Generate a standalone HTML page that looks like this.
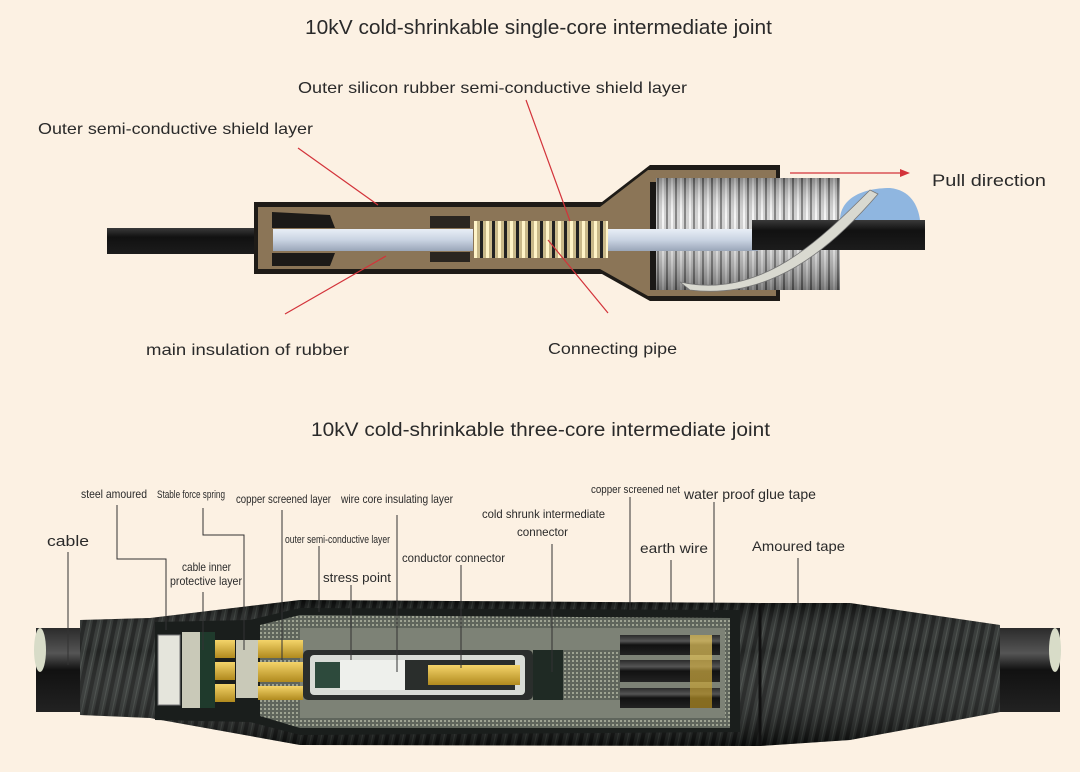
<!DOCTYPE html>
<html><head><meta charset="utf-8"><style>
html,body{margin:0;padding:0;background:#fcf1e3;}
svg{display:block;}
text{font-family:"Liberation Sans",sans-serif;fill:#2a2a2a;}
</style></head><body>
<svg width="1080" height="772" viewBox="0 0 1080 772" xmlns="http://www.w3.org/2000/svg">
<defs>
<linearGradient id="rod" x1="0" y1="0" x2="0" y2="1"><stop offset="0" stop-color="#e8eef6"/><stop offset=".5" stop-color="#c9d3e2"/><stop offset="1" stop-color="#9aa6b8"/></linearGradient>
<linearGradient id="blk" x1="0" y1="0" x2="0" y2="1"><stop offset="0" stop-color="#3a3a3a"/><stop offset=".35" stop-color="#111"/><stop offset="1" stop-color="#1c1c1c"/></linearGradient>
<linearGradient id="cab" x1="0" y1="0" x2="0" y2="1"><stop offset="0" stop-color="#2b2b2b"/><stop offset=".3" stop-color="#555"/><stop offset=".5" stop-color="#111"/><stop offset="1" stop-color="#222"/></linearGradient>
<linearGradient id="gold" x1="0" y1="0" x2="0" y2="1"><stop offset="0" stop-color="#f4d46a"/><stop offset="1" stop-color="#b08a1e"/></linearGradient>
<linearGradient id="shade" x1="0" y1="0" x2="0" y2="1"><stop offset="0" stop-color="#000" stop-opacity=".35"/><stop offset=".35" stop-color="#fff" stop-opacity=".08"/><stop offset="1" stop-color="#000" stop-opacity=".45"/></linearGradient>
<pattern id="coil" width="9" height="10" patternUnits="userSpaceOnUse"><rect width="9" height="10" fill="#cfcfcf"/><rect width="2" height="10" fill="#7a7a7a"/><rect x="5" width="2" height="10" fill="#f4f4f4"/></pattern>
<pattern id="wrap" width="10" height="10" patternUnits="userSpaceOnUse" patternTransform="rotate(12)"><rect width="10" height="10" fill="#242826"/><rect width="4" height="10" fill="#0e100f"/><rect x="7" width="1" height="10" fill="#3c423e"/></pattern>
<pattern id="mesh" width="4" height="4" patternUnits="userSpaceOnUse"><rect width="4" height="4" fill="#5f655c"/><rect width="2" height="2" fill="#9ea392"/></pattern>
<pattern id="ring" width="12" height="10" patternUnits="userSpaceOnUse"><rect width="12" height="10" fill="#c9b98a"/><rect width="3" height="10" fill="#222"/><rect x="6" width="3" height="10" fill="#fff4c8"/></pattern>
</defs>

<!-- TOP DIAGRAM -->
<text x="305" y="34" font-size="20" textLength="467" lengthAdjust="spacingAndGlyphs">10kV cold-shrinkable single-core intermediate joint</text>
<text x="298" y="93" font-size="16" textLength="389" lengthAdjust="spacingAndGlyphs">Outer silicon rubber semi-conductive shield layer</text>
<text x="38" y="134" font-size="16" textLength="275" lengthAdjust="spacingAndGlyphs">Outer semi-conductive shield layer</text>
<text x="932" y="186" font-size="17" textLength="114" lengthAdjust="spacingAndGlyphs">Pull direction</text>
<text x="146" y="355" font-size="16" textLength="203" lengthAdjust="spacingAndGlyphs">main insulation of  rubber</text>
<text x="548" y="354" font-size="16" textLength="129" lengthAdjust="spacingAndGlyphs">Connecting pipe</text>

<rect x="107" y="228" width="160" height="26" fill="url(#blk)"/>
<path d="M254 202 L602 202 L650 165 L780 165 L780 301 L650 301 L602 274 L254 274 Z" fill="#1e1b17"/>
<path d="M258 207 L600 207 L648 170 L776 170 L776 296 L648 296 L600 269 L258 269 Z" fill="#8b7557"/>
<path d="M272 212 L330 215 L335 228 L272 228 Z M272 253 L335 253 L330 266 L272 266 Z" fill="#1c1a18"/>
<path d="M430 216 L470 216 L470 228 L430 228 Z M430 252 L470 252 L470 262 L430 262 Z" fill="#2a2520"/>
<path d="M650 182 L776 182 L776 290 L650 290 Z" fill="#1a1816"/>
<rect x="656" y="178" width="184" height="112" fill="url(#coil)"/>
<rect x="656" y="178" width="184" height="112" fill="url(#shade)"/>
<rect x="273" y="229" width="200" height="22" fill="url(#rod)"/>
<rect x="608" y="229" width="150" height="22" fill="url(#rod)"/>
<rect x="474" y="221" width="134" height="37" fill="url(#ring)"/>
<path d="M840 220 C840 200 860 188 890 188 C910 190 918 205 920 220 Z" fill="#8fb6e0"/>
<rect x="752" y="220" width="173" height="30" fill="url(#blk)"/>
<path d="M680 282 C760 300 820 240 870 190 L878 194 C830 250 770 300 690 290 Z" fill="#d9d9d0" stroke="#777" stroke-width=".8"/>

<g stroke="#d3333a" stroke-width="1.2" fill="none">
<line x1="298" y1="148" x2="378" y2="205"/>
<line x1="526" y1="100" x2="570" y2="221"/>
<line x1="285" y1="314" x2="386" y2="256"/>
<line x1="608" y1="313" x2="548" y2="240"/>
<line x1="790" y1="173" x2="900" y2="173"/>
</g>
<path d="M900 169 L910 173 L900 177 Z" fill="#d3333a"/>

<!-- BOTTOM DIAGRAM -->
<text x="311" y="436" font-size="19" textLength="459" lengthAdjust="spacingAndGlyphs">10kV cold-shrinkable three-core intermediate joint</text>
<g font-size="12">
<text x="47" y="546" font-size="15" textLength="42" lengthAdjust="spacingAndGlyphs">cable</text>
<text x="81" y="498" textLength="66" lengthAdjust="spacingAndGlyphs">steel amoured</text>
<text x="157" y="498" font-size="11" textLength="68" lengthAdjust="spacingAndGlyphs">Stable force spring</text>
<text x="236" y="503" textLength="95" lengthAdjust="spacingAndGlyphs">copper screened layer</text>
<text x="341" y="503" textLength="112" lengthAdjust="spacingAndGlyphs">wire  core insulating layer</text>
<text x="182" y="571" textLength="49" lengthAdjust="spacingAndGlyphs">cable inner</text>
<text x="170" y="585" textLength="72" lengthAdjust="spacingAndGlyphs">protective layer</text>
<text x="285" y="543" font-size="11" textLength="105" lengthAdjust="spacingAndGlyphs">outer semi-conductive layer</text>
<text x="323" y="582" font-size="13" textLength="68" lengthAdjust="spacingAndGlyphs">stress point</text>
<text x="402" y="562" textLength="103" lengthAdjust="spacingAndGlyphs">conductor connector</text>
<text x="482" y="518" textLength="123" lengthAdjust="spacingAndGlyphs">cold shrunk intermediate</text>
<text x="517" y="536" textLength="51" lengthAdjust="spacingAndGlyphs">connector</text>
<text x="591" y="493" font-size="11" textLength="89" lengthAdjust="spacingAndGlyphs">copper screened net</text>
<text x="684" y="499" font-size="14" textLength="132" lengthAdjust="spacingAndGlyphs">water proof glue tape</text>
<text x="640" y="553" font-size="14" textLength="68" lengthAdjust="spacingAndGlyphs">earth wire</text>
<text x="752" y="551" font-size="14" textLength="93" lengthAdjust="spacingAndGlyphs">Amoured tape</text>
</g>

<path d="M36 628 L1060 628 L1060 712 L36 712 Z" fill="url(#cab)"/>
<ellipse cx="40" cy="650" rx="6" ry="22" fill="#d8dcc8"/>
<ellipse cx="1055" cy="650" rx="6" ry="22" fill="#d8dcc8"/>
<path d="M80 620 L150 618 L300 600 L760 603 L850 603 L1000 625 L1000 712 L850 740 L760 746 L300 745 L150 718 L80 715 Z" fill="url(#wrap)"/>
<path d="M80 620 L150 618 L300 600 L760 603 L850 603 L1000 625 L1000 712 L850 740 L760 746 L300 745 L150 718 L80 715 Z" fill="url(#shade)"/>
<path d="M760 604 L760 746" stroke="#111" stroke-width="3"/>
<!-- cutaway -->
<path d="M155 622 L250 620 L300 608 L740 610 L740 732 L300 735 L250 722 L155 720 Z" fill="#1a1e1c"/>
<path d="M260 625 L300 615 L730 618 L730 728 L300 728 L260 716 Z" fill="url(#mesh)"/>
<path d="M300 628 L725 628 L725 718 L300 718 Z" fill="#7d8276"/>
<rect x="158" y="635" width="22" height="70" fill="#e5e5dc" stroke="#777"/>
<rect x="182" y="632" width="30" height="76" fill="#c9c9b8"/>
<rect x="200" y="632" width="15" height="76" fill="#1f3a2c"/>
<rect x="215" y="640" width="20" height="18" fill="url(#gold)"/>
<rect x="215" y="662" width="20" height="18" fill="url(#gold)"/>
<rect x="215" y="684" width="20" height="18" fill="url(#gold)"/>
<rect x="236" y="640" width="22" height="58" fill="#c9c9b8"/>
<rect x="258" y="640" width="45" height="18" fill="url(#gold)"/>
<rect x="258" y="662" width="45" height="20" fill="url(#gold)"/>
<rect x="258" y="686" width="45" height="14" fill="url(#gold)"/>
<rect x="620" y="635" width="100" height="20" fill="url(#cab)"/>
<rect x="620" y="660" width="100" height="22" fill="url(#cab)"/>
<rect x="620" y="688" width="100" height="20" fill="url(#cab)"/>
<rect x="690" y="635" width="22" height="73" fill="url(#gold)" opacity=".7"/>
<rect x="303" y="650" width="230" height="50" rx="5" fill="#2a2e2c"/>
<rect x="310" y="655" width="215" height="40" rx="4" fill="#d8dcd6"/>
<rect x="315" y="662" width="25" height="26" fill="#2d4a3c"/>
<rect x="340" y="660" width="65" height="30" fill="#eef0ec"/>
<rect x="405" y="660" width="110" height="30" fill="#2a2e2c"/>
<rect x="428" y="665" width="92" height="20" fill="url(#gold)"/>
<rect x="533" y="650" width="30" height="50" fill="#1f2a24"/>
<rect x="563" y="650" width="57" height="50" fill="url(#mesh)"/>

<g stroke="#333" stroke-width="1" fill="none">
<line x1="68" y1="552" x2="68" y2="665"/>
<polyline points="117,505 117,559 166,559 166,630"/>
<polyline points="203,508 203,535 244,535 244,650"/>
<line x1="203" y1="592" x2="203" y2="650"/>
<line x1="282" y1="510" x2="282" y2="660"/>
<line x1="319" y1="546" x2="319" y2="612"/>
<line x1="351" y1="585" x2="351" y2="660"/>
<line x1="397" y1="515" x2="397" y2="672"/>
<line x1="461" y1="565" x2="461" y2="668"/>
<line x1="552" y1="544" x2="552" y2="672"/>
<line x1="630" y1="497" x2="630" y2="610"/>
<line x1="671" y1="560" x2="671" y2="610"/>
<line x1="714" y1="502" x2="714" y2="612"/>
<line x1="798" y1="558" x2="798" y2="606"/>
</g>
</svg>
</body></html>
